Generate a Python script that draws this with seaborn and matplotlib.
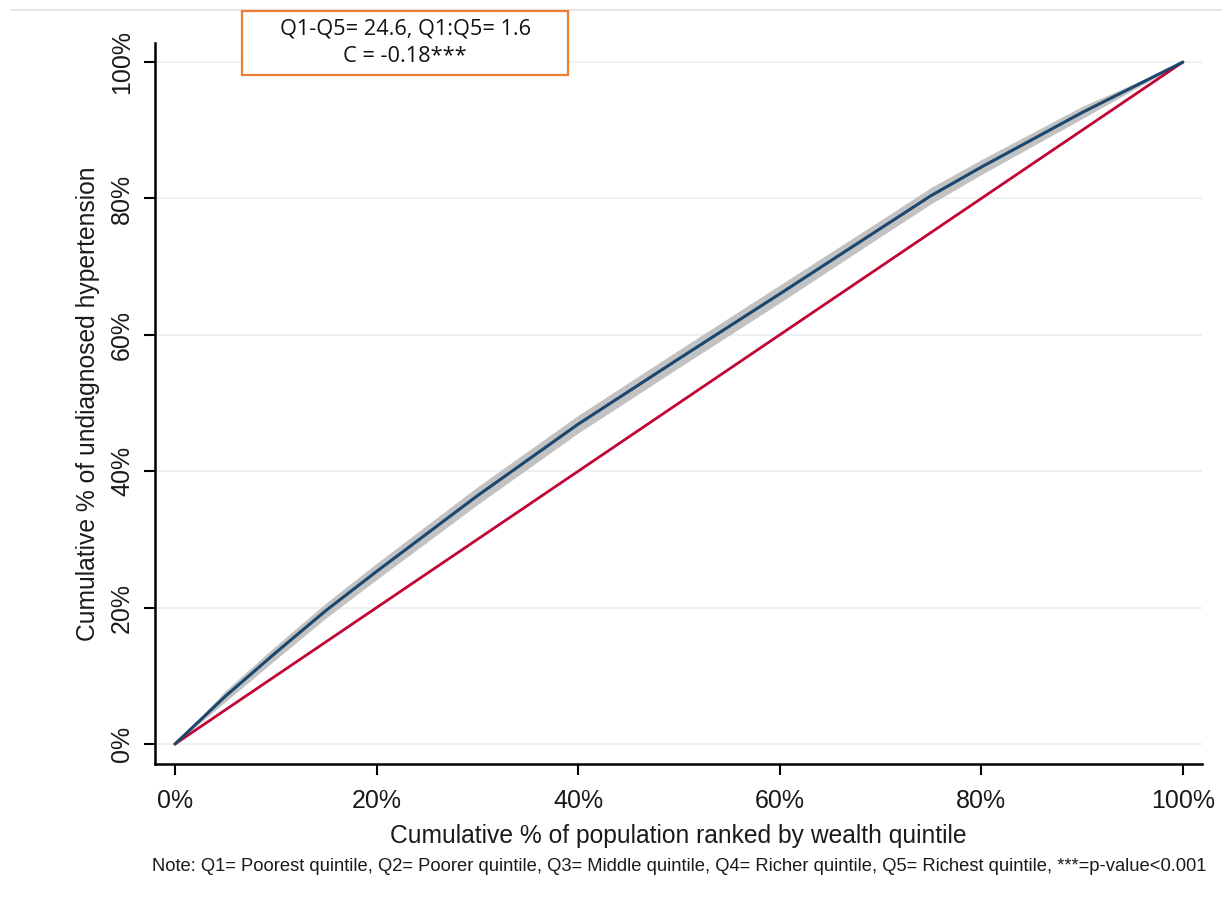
import matplotlib
matplotlib.use("Agg")
import matplotlib.pyplot as plt
from matplotlib.lines import Line2D
from matplotlib.patches import Rectangle
import seaborn as sns
import pandas as pd

# Concentration curve: cumulative population share (ranked by wealth) vs cumulative share of cases
pop_share = [0, 5, 10, 15, 20, 30, 40, 50, 60, 70, 75, 80, 90, 100]
case_share = [0, 7.0, 13.4, 19.6, 25.3, 36.4, 46.9, 56.5, 66.0, 75.6, 80.4, 84.6, 92.6, 100]
ci_halfwidth = [0, 0.8, 1.0, 1.1, 1.2, 1.3, 1.3, 1.3, 1.3, 1.2, 1.2, 1.1, 0.9, 0]

equality_x = [0, 100]
equality_y = [0, 100]

tick_values = [0, 20, 40, 60, 80, 100]
tick_labels = ["0%", "20%", "40%", "60%", "80%", "100%"]

summary_lines = ["Q1-Q5= 24.6, Q1:Q5= 1.6", "C = -0.18***"]
note_text = ("Note: Q1= Poorest quintile, Q2= Poorer quintile, Q3= Middle quintile, "
             "Q4= Richer quintile, Q5= Richest quintile, ***=p-value<0.001")

sns.set_theme(style="white")
plt.rcParams["font.family"] = ["Liberation Sans", "DejaVu Sans"]
plt.rcParams["text.color"] = "#1a1a1a"
plt.rcParams["axes.labelcolor"] = "#1a1a1a"
plt.rcParams["xtick.color"] = "#1a1a1a"
plt.rcParams["ytick.color"] = "#1a1a1a"

fig = plt.figure(figsize=(12.22, 8.97), dpi=100)
ax = fig.add_axes([155 / 1222, 1 - 764 / 897, (1202 - 155) / 1222, (764 - 43) / 897])

curve = pd.DataFrame({"pop": pop_share, "cases": case_share})
lower = [c - h for c, h in zip(case_share, ci_halfwidth)]
upper = [c + h for c, h in zip(case_share, ci_halfwidth)]

for v in tick_values:
    ax.axhline(v, color="#eaf2f3", lw=1.5, zorder=0)

ax.fill_between(pop_share, lower, upper, color="#c2c2c2", lw=0, zorder=1)
sns.lineplot(x=equality_x, y=equality_y, ax=ax, color="#c10534", lw=2, zorder=2)
sns.lineplot(data=curve, x="pop", y="cases", ax=ax, color="#1a476f", lw=2.2, zorder=3)

ax.set_xlim(-1.98, 101.9)
ax.set_ylim(-2.93, 102.8)
ax.set_xticks(tick_values)
ax.set_xticklabels(tick_labels, fontsize=18)
ax.set_yticks(tick_values)
ax.set_yticklabels(tick_labels, fontsize=18, rotation=90, va="center")
ax.tick_params(axis="both", direction="out", length=8, width=1.5, color="black",
               bottom=True, left=True, pad=7)
ax.tick_params(axis="x", pad=10)

for side in ["top", "right"]:
    ax.spines[side].set_visible(False)
for side in ["left", "bottom"]:
    ax.spines[side].set_color("black")
    ax.spines[side].set_linewidth(1.8)

ax.set_xlabel("Cumulative % of population ranked by wealth quintile", fontsize=17.7, labelpad=8)
ax.set_ylabel("Cumulative % of undiagnosed hypertension", fontsize=17.7, labelpad=7)

# Thin rule along the top of the figure
fig.add_artist(Line2D([11 / 1222, 1.0], [1 - 10 / 897, 1 - 10 / 897],
                      color="#e2e2e2", lw=1.2, transform=fig.transFigure))

# Summary statistics box
fig.add_artist(Rectangle((242 / 1222, 1 - 75 / 897), (568 - 242) / 1222, (75 - 11) / 897,
                         transform=fig.transFigure, facecolor="white",
                         edgecolor="#ed7d31", lw=1.6, zorder=5))
for i, line in enumerate(summary_lines):
    fig.text(405 / 1222, 1 - (29 + 27 * i) / 897, line, ha="center", va="center",
             fontsize=15.7, family=["Open Sans", "DejaVu Sans"], color="#111111", zorder=6)

fig.text(679 / 1222, 1 - 866 / 897, note_text, ha="center", va="center", fontsize=13.2,
         family=["Liberation Sans", "DejaVu Sans"])

fig.savefig("out.png", dpi=100, facecolor="white")
